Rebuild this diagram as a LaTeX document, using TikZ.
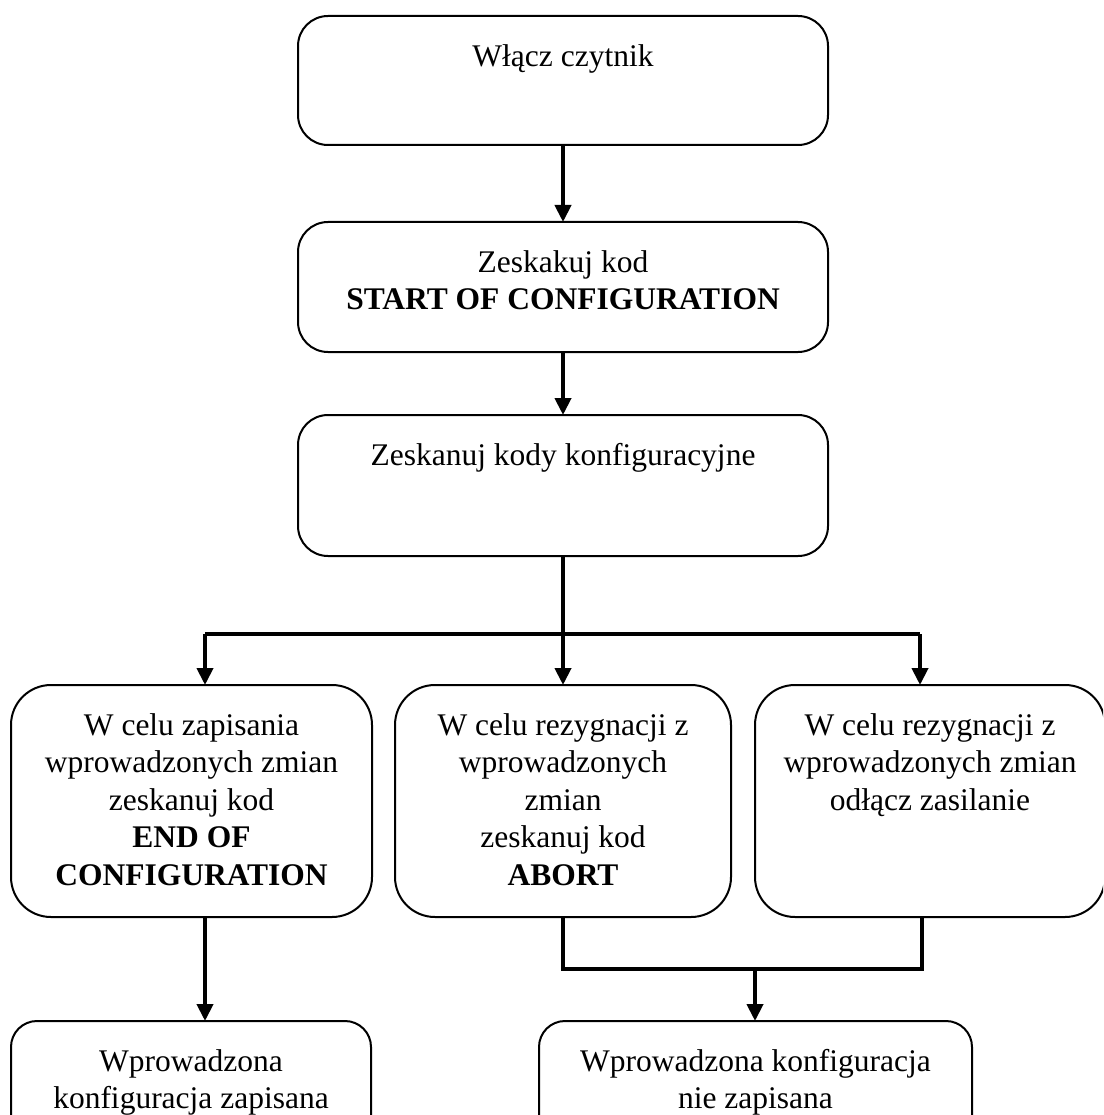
\documentclass[tikz,border=0pt]{standalone}
\usepackage{fontspec}
\setmainfont{Liberation Serif}
\usetikzlibrary{arrows.meta}
\begin{document}
\begin{tikzpicture}[x=1pt,y=-1pt,
  flowbox/.style={draw=black, line width=2pt, inner sep=0pt, outer sep=0pt},
  lbl/.style={anchor=north, inner sep=0pt, align=center, font=\fontsize{31.5}{37.5}\selectfont},
  conn/.style={line width=4pt},
  arr/.style={line width=4pt, -{Triangle[length=17pt,width=16pt]}}]
\useasboundingbox (0,0) rectangle (1103,1115);
\clip (0,0) rectangle (1103,1115);

% top column
\node[flowbox, rounded corners=30pt, minimum width=530pt, minimum height=129pt] (b1) at (563,80.5) {};
\node[lbl] (b1t) at (563,40) {\strut Włącz czytnik};
\node[flowbox, rounded corners=30pt, minimum width=530pt, minimum height=130pt] (b2) at (563,287) {};
\node[lbl] (b2t) at (563,246) {\strut Zeskakuj kod\\ \textbf{START OF CONFIGURATION}};
\node[flowbox, rounded corners=30pt, minimum width=530pt, minimum height=141pt] (b3) at (563,485.5) {};
\node[lbl] (b3t) at (563,439) {\strut Zeskanuj kody konfiguracyjne};

% middle row
\node[flowbox, rounded corners=40pt, minimum width=361pt, minimum height=232pt] (m1) at (191.5,801) {};
\node[lbl] (m1t) at (191.5,709) {\strut W celu zapisania\\ wprowadzonych zmian\\ zeskanuj kod\\ \textbf{END OF}\\ \textbf{CONFIGURATION}};
\node[flowbox, rounded corners=40pt, minimum width=336pt, minimum height=232pt] (m2) at (563,801) {};
\node[lbl] (m2t) at (563,709) {\strut W celu rezygnacji z\\ wprowadzonych\\ zmian\\ zeskanuj kod\\ \textbf{ABORT}};
\node[flowbox, rounded corners=40pt, minimum width=350pt, minimum height=232pt] (m3) at (930,801) {};
\node[lbl] (m3t) at (930,709) {\strut W celu rezygnacji z\\ wprowadzonych zmian\\ odłącz zasilanie};

% bottom row
\node[flowbox, rounded corners=26pt, minimum width=360pt, minimum height=129pt] (r1) at (191,1085.5) {};
\node[lbl] (r1t) at (191,1045) {\strut Wprowadzona\\ konfiguracja zapisana};
\node[flowbox, rounded corners=26pt, minimum width=433pt, minimum height=129pt] (r2) at (755.5,1085.5) {};
\node[lbl] (r2t) at (755.5,1045) {\strut Wprowadzona konfiguracja\\ nie zapisana};

% junction points
\coordinate (j1) at (563,634);
\coordinate (jL) at (205,634);
\coordinate (jR) at (920,634);
\coordinate (k2) at (563,969);
\coordinate (k3) at (922,969);
\coordinate (k) at (755,969);

% connectors
\draw[arr] (b1.south) -- (b2.north);
\draw[arr] (b2.south) -- (b3.north);
\draw[conn] (b3.south) -- (j1);
\draw[conn] (jL) -- (jR);
\draw[arr] (jL) -- (jL |- m1.north);
\draw[arr] (j1) -- (j1 |- m2.north);
\draw[arr] (jR) -- (jR |- m3.north);
\draw[arr] (jL |- m1.south) -- (jL |- r1.north);
\draw[conn] (k2 |- m2.south) -- (k2) -- (k3) -- (k3 |- m3.south);
\draw[arr] (k) -- (k |- r2.north);
\end{tikzpicture}
\end{document}
